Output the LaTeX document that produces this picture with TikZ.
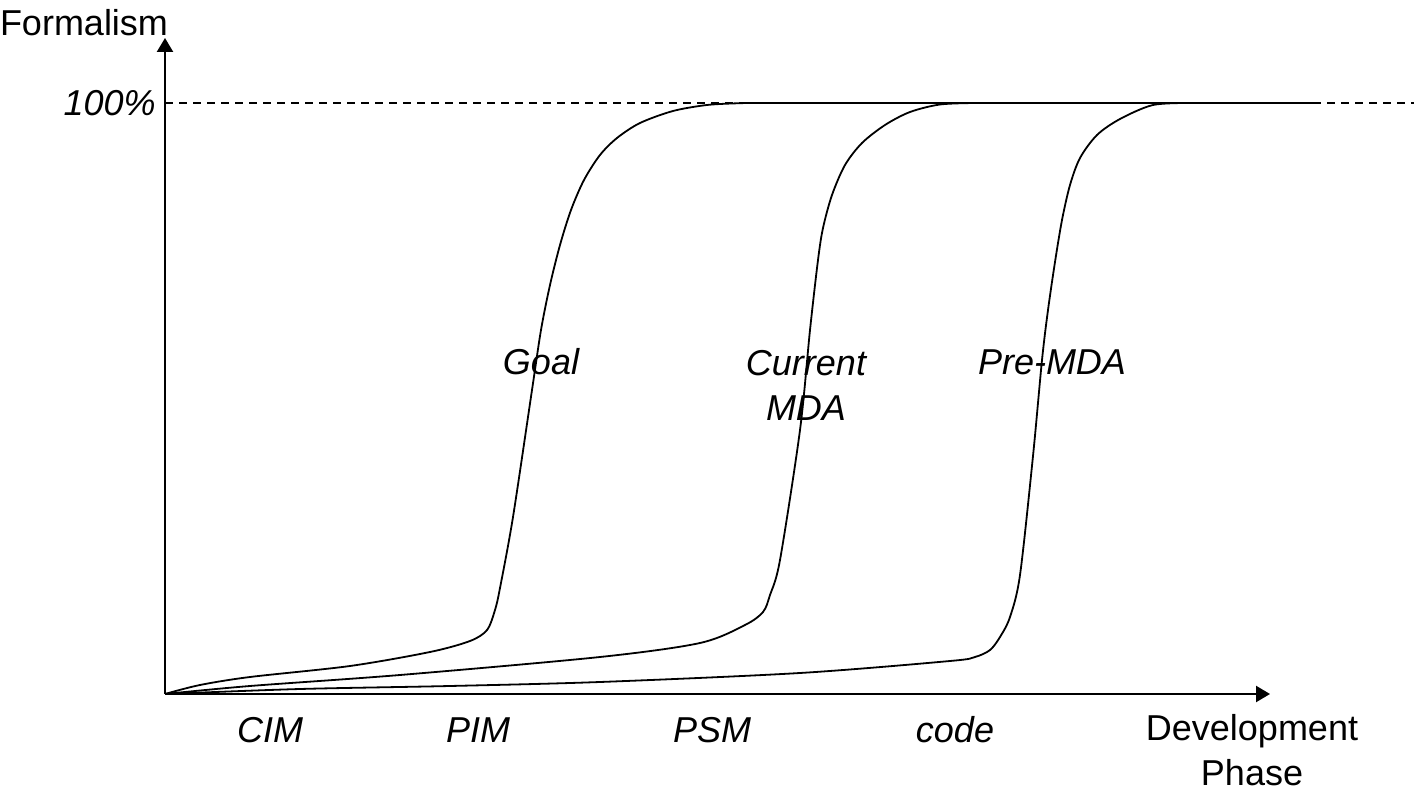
\documentclass[tikz,border=0pt]{standalone}
\usepackage{fontspec}
\setmainfont{Liberation Sans}
\usetikzlibrary{arrows.meta}

\begin{document}
\begin{tikzpicture}[x=0.5pt,y=-0.5pt,
    curve/.style={line width=0.9pt},
    axis/.style={line width=1.2pt,-{Triangle[width=8pt,length=7pt]}},
    lbl/.style={font=\fontsize{18}{22.5}\selectfont,inner sep=0pt,align=center},
    phase/.style={lbl,font=\fontsize{18}{22.5}\selectfont\itshape}]
      \useasboundingbox (0,0) rectangle (1414,790);
      \coordinate (O) at (165,694);
      \coordinate (ytip) at (165,38);
      \coordinate (xtip) at (1270,694);
      \coordinate (full) at (165,103);
      \coordinate (fullend) at (1414,103);
      \coordinate (flatend) at (1318,103);
      % 100% level
      \draw[line width=0.9pt,dash pattern=on 4pt off 3pt] (full) -- (fullend);
      % axes
      \draw[axis] (O) -- (ytip);
      \draw[axis] (O) -- (xtip);
      \node[lbl,anchor=south] (formalism) at (84,36) {Formalism};
      \node[lbl,font=\fontsize{18}{22.5}\selectfont\itshape,anchor=east] (pct) at (156,103) {100\%};
      \node[lbl,anchor=north] (devphase) at (1252,714) {Development\\Phase};
      % phases
      \node[phase,anchor=base] (cim) at (270,742) {CIM};
      \node[phase,anchor=base] (pim) at (478,742) {PIM};
      \node[phase,anchor=base] (psm) at (712,742) {PSM};
      \node[phase,anchor=base] (code) at (955,742) {code};
      % curves
      \coordinate (goaltop) at (760,103);
      \coordinate (curtop) at (975,103);
      \coordinate (pretop) at (1190,103);
      \draw[curve] plot[smooth] coordinates {(165,694) (200,685) (250,677) (350,666) (430,652)
        (470,641) (487,630) (495,610) (500,588) (513,517) (532,390) (541,330) (550,285)
        (560,245) (571,210) (584,180) (600,155) (617,138) (640,123) (673,111) (707,105)
        (740,103.2) (goaltop)};
      \draw[curve] plot[smooth] coordinates {(165,694) (250,686) (400,675) (600,657) (700,643)
        (745,625) (763,612) (770,595) (780,560) (800,430) (810,330) (818,260) (823,228)
        (832,195) (845,165) (862,143) (885,125) (910,112) (940,104.5) (curtop)};
      \draw[curve] plot[smooth] coordinates {(165,694) (300,689) (450,686) (600,682) (800,673)
        (950,661) (975,657) (990,650) (1000,637) (1010,617) (1020,575) (1033,456) (1042,360)
        (1048,310) (1055,262) (1062,220) (1070,185) (1080,158) (1097,135) (1120,119)
        (1153,105) (pretop)};
      \draw[curve] (goaltop) -- (flatend);
      % curve names
      \node[phase] (goal) at (541,362) {Goal};
      \node[phase] (current) at (806,385) {Current\\MDA};
      \node[phase] (premda) at (1052,362) {Pre-MDA};
\end{tikzpicture}
\end{document}
